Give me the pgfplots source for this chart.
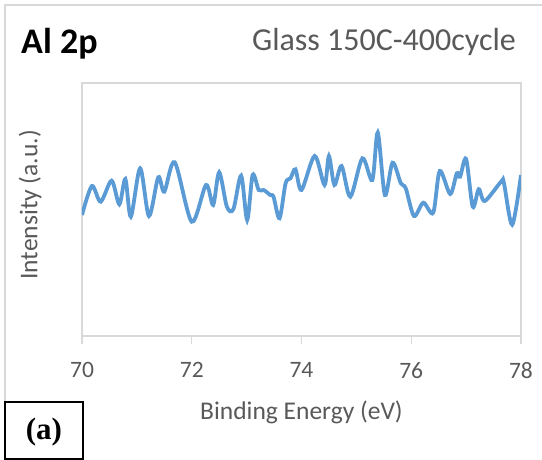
\documentclass[border=0pt]{standalone}
\usepackage{pgfplots}
\pgfplotsset{compat=1.18}
\usepackage{fontspec}
\setmainfont{Carlito}
\newfontfamily\timesfont{Liberation Serif}
\definecolor{xlblue}{HTML}{5B9BD5}
\definecolor{xltext}{HTML}{595959}
\definecolor{xlgrid}{HTML}{D9D9D9}
\begin{document}
\begin{tikzpicture}
\path[use as bounding box] (0pt,0pt) rectangle (542pt,460pt);
\draw[xlgrid, line width=1.2pt] (5pt,0pt) -- (5pt,455pt) -- (542pt,455pt);
\begin{axis}[
  scale only axis, width=439pt, height=253pt,
  at={(82pt,124pt)}, anchor=south west,
  xmin=70, xmax=78, ymin=0, ymax=253,
  xtick={70,72,74,76,78}, ytick=\empty,
  xtick pos=bottom, tick align=outside, major tick length=8pt,
  axis line style={draw=xlgrid, line width=1.2pt},
  tick style={draw=xlgrid, line width=1.2pt},
  /pgf/number format/assume math mode=true,
  ticklabel style={font=\fontsize{23.5}{28}\selectfont, text=xltext},
  xticklabel style={yshift=-15pt},
  xlabel={Binding Energy (eV)},
  ylabel={Intensity (a.u.)},
  label style={font=\fontsize{25.5}{30}\selectfont, text=xltext},
  x label style={at={(axis description cs:0.5,-0.3)}, anchor=center},
  y label style={at={(axis description cs:-0.118,0.518)}, anchor=center},
]
\addplot[xlblue, line width=3.8pt, smooth, tension=0.5] coordinates {
(70.00,121) (70.18,150) (70.34,134.3) (70.54,155.3) (70.68,131.7) (70.79,157)
(70.89,119.3) (71.06,167.7) (71.22,120) (71.39,158.7) (71.50,144.3) (71.69,173.7)
(72.00,114.3) (72.26,151) (72.39,131) (72.50,163.7) (72.64,129.3) (72.76,127)
(72.90,160.3) (73.01,116) (73.11,161) (73.22,146) (73.31,146) (73.43,141)
(73.49,139.3) (73.60,117.7) (73.71,152.7) (73.80,157.7) (73.89,166.7) (74.00,146)
(74.24,180) (74.42,151) (74.50,180) (74.60,151) (74.73,170) (74.89,139.3)
(75.11,177.7) (75.29,156) (75.39,203.5) (75.52,141) (75.66,173.3) (75.81,152.7)
(75.90,147.7) (76.05,120) (76.22,133.3) (76.40,123.3) (76.52,165) (76.71,142)
(76.83,162.7) (76.89,159.3) (77.00,177) (77.12,129.3) (77.23,146.8) (77.34,135)
(77.64,154.5) (77.69,152.7) (77.84,111.3) (78.00,161)
};
\end{axis}
\node[anchor=base west, inner sep=0pt, font=\bfseries\fontsize{36}{42}\selectfont] at (21pt,406pt) {Al 2p};
\node[anchor=base east, inner sep=0pt, text=xltext, font=\fontsize{32}{38}\selectfont] at (516pt,409pt) {Glass 150C-400cycle};
\draw[black, line width=1.6pt] (5pt,0.8pt) rectangle (83pt,58pt);
\node[font=\timesfont\bfseries\fontsize{31}{35}\selectfont] at (44pt,28pt) {(a)};
\end{tikzpicture}
\end{document}
